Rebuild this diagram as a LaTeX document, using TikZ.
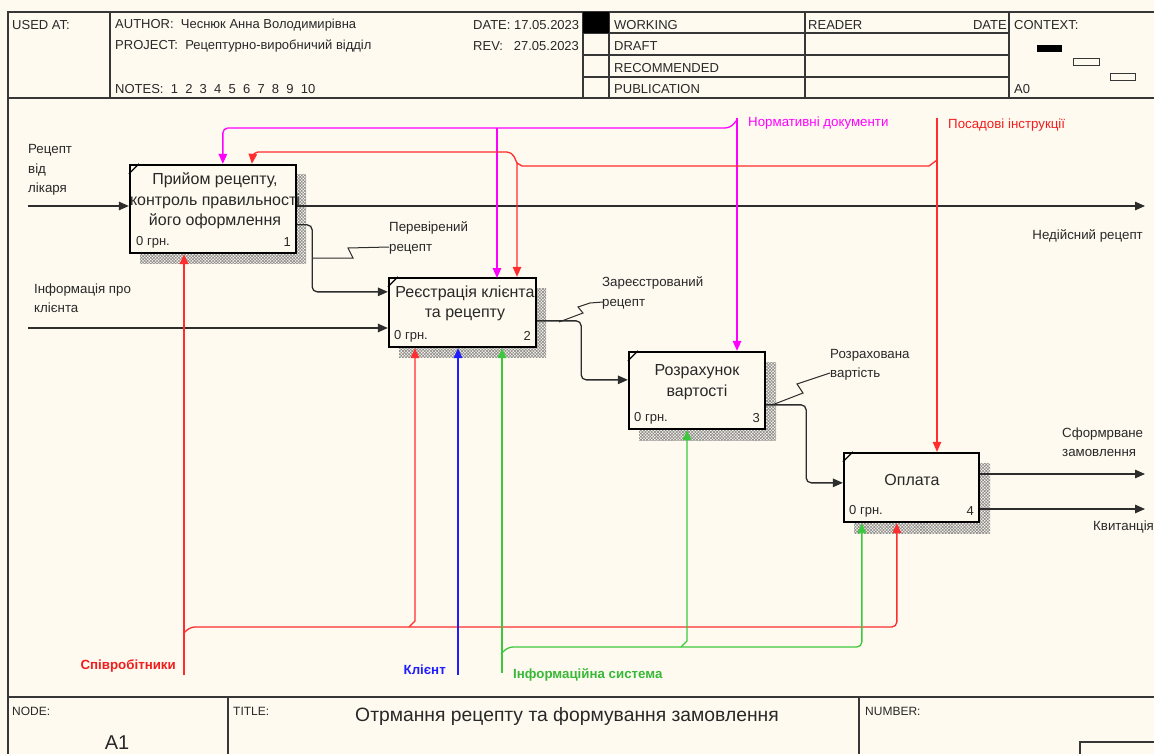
\documentclass[tikz,border=0pt]{standalone}
\usepackage{fontspec}
\setmainfont{Liberation Sans}
\usetikzlibrary{arrows.meta,calc,patterns.meta}
\definecolor{bg}{RGB}{255,250,240}
\definecolor{frm}{RGB}{55,55,55}
\definecolor{txt}{RGB}{40,40,40}
\definecolor{lc}{RGB}{45,45,45}
\definecolor{redc}{RGB}{255,45,45}
\definecolor{magc}{RGB}{255,0,255}
\definecolor{bluec}{RGB}{30,30,255}
\definecolor{greenc}{RGB}{60,200,60}
\definecolor{redt}{RGB}{240,30,30}
\definecolor{greent}{RGB}{55,185,55}
\begin{document}
\begin{tikzpicture}[x=1pt,y=-1pt,
  frame/.style={draw=frm, line width=1.2pt},
  hdr/.style={anchor=west, inner sep=0pt, font=\fontsize{13}{15}\selectfont, text=txt},
  ftr/.style={anchor=west, inner sep=0pt, font=\fontsize{12}{14}\selectfont, text=txt},
  box/.style={draw=black, line width=2.3pt, fill=bg, inner sep=0pt},
  shadowfill/.style={pattern={Hatch[angle=45,distance=2.2pt,line width=0.65pt]}, pattern color=gray!90},
  btext/.style={align=center, font=\fontsize{16}{20.5}\selectfont, inner sep=0pt, text=txt},
  small/.style={font=\fontsize{13}{15}\selectfont, inner sep=0pt, text=txt},
  lbl/.style={align=left, anchor=west, font=\fontsize{13.3}{19.5}\selectfont, inner sep=0pt, text=txt},
  boldlbl/.style={lbl, font=\bfseries\fontsize{13.3}{15}\selectfont},
  tip/.style={-{Triangle[length=10pt,width=8.5pt,fill=#1]}},
  conn/.style={draw=lc, line width=1.3pt, tip=lc},
  cconn/.style={draw=#1, line width=1.3pt, tip=#1},
  sq/.style={draw=lc, line width=1pt},
  rc/.style={rounded corners=5pt}]
\useasboundingbox (0,0) rectangle (1154,754);
\fill[bg] (0,0) rectangle (1154,754);

% ---------- frame / header ----------
\draw[frame] (1170,12) -- (8,12) -- (8,770);
\draw[frame] (8,98) -- (1170,98);
\draw[frame] (8,697) -- (1170,697);
\foreach \x in {110,583,609,805,1009} \draw[frame] (\x,12) -- (\x,98);
\foreach \y in {33,55,77} \draw[frame] (583,\y) -- (1009,\y);
\fill[black] (583,12) rectangle (609,33);

\node[hdr] (usedat) at (12,25) {USED AT:};
\node[hdr] (author) at (115,25) {AUTHOR:\ \ Чеснюк Анна Володимирівна};
\node[hdr] (project) at (115,46) {PROJECT:\ \ Рецептурно-виробничий відділ};
\node[hdr] (notes) at (115,89) {NOTES:\ \ 1\ \ 2\ \ 3\ \ 4\ \ 5\ \ 6\ \ 7\ \ 8\ \ 9\ \ 10};
\node[hdr] (date) at (473,25) {DATE: 17.05.2023};
\node[hdr] (rev) at (473,46) {REV:\ \ \ 27.05.2023};
\node[hdr] (working) at (614,25) {WORKING};
\node[hdr] (draft) at (614,46) {DRAFT};
\node[hdr] (recom) at (614,68) {RECOMMENDED};
\node[hdr] (publ) at (614,89) {PUBLICATION};
\node[hdr] (reader) at (808,25) {READER};
\node[hdr, anchor=east] (rdate) at (1007,25) {DATE};
\node[hdr] (context) at (1014,25) {CONTEXT:};
\node[hdr] (a0) at (1014,89) {A0};
\fill[black] (1037,45) rectangle (1062,52);
\draw[frm, line width=1pt] (1073,59) rectangle (1099,66);
\draw[frm, line width=1pt] (1110,74) rectangle (1135,81);

% ---------- footer ----------
\draw[frame] (228,697) -- (228,770);
\draw[frame] (859,697) -- (859,770);
\draw[frame] (1080,742) rectangle (1180,790);
\node[ftr] (nodelbl) at (12,711) {NODE:};
\node[inner sep=0pt, font=\fontsize{20}{22}\selectfont, text=txt] (a1) at (117,743) {A1};
\node[ftr] (titlelbl) at (233,711) {TITLE:};
\node[inner sep=0pt, font=\fontsize{19.3}{22}\selectfont, text=txt] (title) at (567,717) {Отрмання рецепту та формування замовлення};
\node[ftr] (numberlbl) at (865,711) {NUMBER:};

% ---------- boxes ----------
\fill[shadowfill] (140,175) rectangle (306,263);
\fill[shadowfill] (399,288) rectangle (546,357);
\fill[shadowfill] (639,362) rectangle (776,440);
\fill[shadowfill] (854,463) rectangle (990,533);
\node[box, minimum width=166pt, minimum height=88pt] (b1) at (213,209) {};
\node[box, minimum width=147pt, minimum height=69pt] (b2) at (462.5,312.5) {};
\node[box, minimum width=136pt, minimum height=77pt] (b3) at (697,390.5) {};
\node[box, minimum width=135pt, minimum height=69pt] (b4) at (911.5,487.5) {};
\foreach \b in {b1,b2,b3,b4} \draw[black, line width=1.3pt] ($(\b.north west)+(0,10)$) -- ++(10,-10);

\node[btext] (b1t) at (215,201) {Прийом рецепту,\\контроль правильності\\його оформлення};
\node[btext] (b2t) at (465,303.5) {Реєстрація клієнта\\та рецепту};
\node[btext] (b3t) at (697,382) {Розрахунок\\вартості};
\node[btext] (b4t) at (912,480) {Оплата};

\node[small, anchor=west] (b1c) at (136,242) {0 грн.};
\node[small, anchor=east] (b1n) at (291,242) {1};
\node[small, anchor=west] (b2c) at (394,336) {0 грн.};
\node[small, anchor=east] (b2n) at (531,336) {2};
\node[small, anchor=west] (b3c) at (634,418) {0 грн.};
\node[small, anchor=east] (b3n) at (760,418) {3};
\node[small, anchor=west] (b4c) at (849,511) {0 грн.};
\node[small, anchor=east] (b4n) at (974,511) {4};

% ---------- free ends ----------
\coordinate (in1) at (28,206);
\coordinate (out1) at (1145,206);
\coordinate (in2) at (28,328);
\coordinate (out4a) at (1145,474);
\coordinate (out4b) at (1145,509);
\coordinate (mtop) at (737,118);
\coordinate (rtop) at (937,118);
\coordinate (rj) at (517,163);
\coordinate (rbot) at (184,675);
\coordinate (bbot) at (458,675);
\coordinate (gbot) at (502,673);
\coordinate (rb2) at (415,627);
\coordinate (gb3) at (687,647);

% ---------- inputs / outputs ----------
\draw[conn] (in1) -- (in1 -| b1.west);
\draw[conn] (out1 -| b1.east) -- (out1);
\draw[conn, rc] ($(b1.north east)+(0,61)$) -- ++(15,0) |- ($(b2.north west)+(0,15)$);
\draw[conn] (in2) -- (in2 -| b2.west);
\draw[conn, rc] ($(b2.north east)+(0,44)$) -- ++(44,0) |- ($(b3.north west)+(0,29)$);
\draw[conn, rc] ($(b3.north east)+(0,54)$) -- ++(40,0) |- ($(b4.north west)+(0,31)$);
\draw[conn] (out4a -| b4.east) -- (out4a);
\draw[conn] (out4b -| b4.east) -- (out4b);

% ---------- controls ----------
\draw[cconn=magc] (mtop) -- (mtop |- b3.north);
\draw[cconn=magc, rc] ($(mtop)+(0,2)$) -- ($(mtop)+(-7,10)$) -| ($(b1.north west)+(94,0)$);
\draw[cconn=magc] (497,128) -- (497,278);

\draw[cconn=redc] (rtop) -- (rtop |- b4.north);
\draw[cconn=redc] ($(rtop)+(0,42)$) -- ($(rtop)+(-8,48)$) -- (522,166) -- (rj) -- (rj |- b2.north);
\draw[cconn=redc, rc] (rj) -- (512,152) -- (253,152) -- ($(b1.north west)+(123,0)$);

% ---------- mechanisms ----------
\draw[cconn=redc] (rbot) -- (rbot |- b1.south);
\draw[cconn=redc, rc] ($(rbot)+(0,-42)$) -- ($(rbot)+(6,-48)$) -| ($(b4.south west)+(54,0)$);
\draw[cconn=redc] ($(rb2)+(-6,0)$) -- ($(rb2)+(0,-6)$) -- (rb2 |- b2.south);
\draw[cconn=bluec] (bbot) -- (bbot |- b2.south);
\draw[cconn=greenc] (gbot) -- (gbot |- b2.south);
\draw[cconn=greenc, rc] ($(gbot)+(0,-20)$) -- ($(gbot)+(6,-26)$) -| ($(b4.south west)+(19,0)$);
\draw[cconn=greenc] ($(gb3)+(-6,0)$) -- ($(gb3)+(0,-6)$) -- (gb3 |- b3.south);

% ---------- squiggles ----------
\draw[sq] (313,258) -- (353,258) -- (348,248) -- (389,247);
\draw[sq] (559,322) -- (583,313) -- (578,307) -- (590,303) -- (603,302);
\draw[sq] (772,405) -- (803,393) -- (797,384) -- (830,373);

% ---------- labels ----------
\node[lbl] (l_in1) at (28,170) {Рецепт\\від\\лікаря};
\node[lbl, anchor=east] (l_out1) at (1143,236) {Недійсний рецепт};
\node[lbl] (l_perev) at (389,238) {Перевірений\\рецепт};
\node[lbl] (l_in2) at (34,298) {Інформація про\\клієнта};
\node[lbl] (l_zar) at (602,293) {Зареєстрований\\рецепт};
\node[lbl] (l_rozr) at (830,365) {Розрахована\\вартість};
\node[lbl] (l_sform) at (1062,442) {Сформрване\\замовлення};
\node[lbl] (l_kvyt) at (1093,527) {Квитанція};
\node[lbl, text=magc] (l_norm) at (748,123) {Нормативні документи};
\node[lbl, text=redt] (l_posad) at (948,125) {Посадові інструкції};
\node[boldlbl, anchor=east, text=redt] (l_spiv) at (176,666) {Співробітники};
\node[boldlbl, anchor=east, text=bluec] (l_klient) at (446,670) {Клієнт};
\node[boldlbl, text=greent] (l_info) at (513,675) {Інформаційна система};
\end{tikzpicture}
\end{document}
